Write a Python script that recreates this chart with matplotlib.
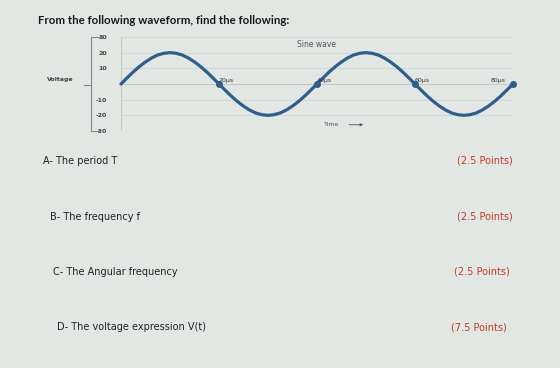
import matplotlib
matplotlib.use("Agg")
import matplotlib.pyplot as plt

time_us = [0, 1.25, 2.5, 3.75, 5, 6.25, 7.5, 8.75, 10, 11.25, 12.5, 13.75, 15, 16.25, 17.5, 18.75,
           20, 21.25, 22.5, 23.75, 25, 26.25, 27.5, 28.75, 30, 31.25, 32.5, 33.75, 35, 36.25, 37.5, 38.75,
           40, 41.25, 42.5, 43.75, 45, 46.25, 47.5, 48.75, 50, 51.25, 52.5, 53.75, 55, 56.25, 57.5, 58.75,
           60, 61.25, 62.5, 63.75, 65, 66.25, 67.5, 68.75, 70, 71.25, 72.5, 73.75, 75, 76.25, 77.5, 78.75,
           80]
voltage = [0, 3.9, 7.7, 11.1, 14.1, 16.6, 18.5, 19.6, 20, 19.6, 18.5, 16.6, 14.1, 11.1, 7.7, 3.9,
           0, -3.9, -7.7, -11.1, -14.1, -16.6, -18.5, -19.6, -20, -19.6, -18.5, -16.6, -14.1, -11.1, -7.7, -3.9,
           0, 3.9, 7.7, 11.1, 14.1, 16.6, 18.5, 19.6, 20, 19.6, 18.5, 16.6, 14.1, 11.1, 7.7, 3.9,
           0, -3.9, -7.7, -11.1, -14.1, -16.6, -18.5, -19.6, -20, -19.6, -18.5, -16.6, -14.1, -11.1, -7.7, -3.9,
           0]
marker_t = [20, 40, 60, 80]
marker_labels = ["20µs", "40µs", "60µs", "80µs"]
ytick_vals = [30, 20, 10, -10, -20, -30]
ytick_labels = ["30", "20", "10", "-10", "-20", "-30"]

questions = ["A- The period T", "B- The frequency f", "C- The Angular frequency",
             "D- The voltage expression V(t)"]
points = ["(2.5 Points)", "(2.5 Points)", "(2.5 Points)", "(7.5 Points)"]

bg = "#e3e7e4"
fig = plt.figure(figsize=(5.6, 3.68), dpi=100, facecolor=bg)

ax = fig.add_axes([0.216, 0.644, 0.700, 0.2555])
ax.set_facecolor(bg)
ax.set_xlim(0, 80)
ax.set_ylim(-30, 30)
for v in [10, 20, 30, -10, -20]:
    ax.axhline(v, color="#cfd3d1", lw=0.6, zorder=0)
ax.axhline(0, color="#c4c8c6", lw=0.8, zorder=0)
ax.axvline(0, color="#c4c8c6", lw=0.8, zorder=0)
for s in ax.spines.values():
    s.set_visible(False)
ax.set_xticks([])
ax.set_yticks(ytick_vals)
ax.set_yticklabels(ytick_labels, fontsize=4.5, fontweight="bold", color="#444444")
ax.tick_params(axis="y", length=0, pad=10)

ax.plot(time_us, voltage, color="#2e5f8c", lw=2.3, clip_on=False, solid_capstyle="round",
        solid_joinstyle="round")
ax.plot(marker_t, [0] * len(marker_t), "o", color="#2e5f8c", ms=4, clip_on=False)
for t, lab in zip(marker_t, marker_labels):
    ax.text(t - 1.5 if t == 80 else t, 0.8, lab, fontsize=4.5, color="#333333",
            ha="right" if t == 80 else "left", va="bottom")

ax.text(0.5, 0.97, "Sine wave", transform=ax.transAxes, fontsize=5.5, color="#555555",
        ha="center", va="top")
ax.text(43, -26, "Time", fontsize=4.5, color="#555555", ha="center", va="center")
ax.annotate("", xy=(50, -26), xytext=(46, -26),
            arrowprops=dict(arrowstyle="-|>", color="#555555", lw=0.6, mutation_scale=4))

# bracket on left
fig.add_artist(plt.Line2D([0.163, 0.163], [0.644, 0.899], color="#888888", lw=0.8))
fig.add_artist(plt.Line2D([0.163, 0.178], [0.899, 0.899], color="#888888", lw=0.8))
fig.add_artist(plt.Line2D([0.163, 0.178], [0.644, 0.644], color="#888888", lw=0.8))
fig.add_artist(plt.Line2D([0.150, 0.163], [0.768, 0.768], color="#888888", lw=0.8))
fig.text(0.107, 0.783, "Voltage", fontsize=4.5, fontweight="bold", color="#444444",
         ha="center", va="center")

fig.text(0.068, 0.945, "From the following waveform, find the following:", fontsize=8.3,
         family=["Lato", "DejaVu Sans"], fontweight="bold",
         color="#1a1a1a", ha="left", va="center")

q_x = [0.077, 0.089, 0.095, 0.102]
q_y = [0.563, 0.411, 0.261, 0.111]
p_x = [0.915, 0.915, 0.910, 0.905]
for qx, qy, q, px, p in zip(q_x, q_y, questions, p_x, points):
    fig.text(qx, qy, q, fontsize=7, color="#222222", ha="left", va="center")
    fig.text(px, qy, p, fontsize=7, color="#c0392b", ha="right", va="center")

fig.savefig("out.png", dpi=100, facecolor=bg)
